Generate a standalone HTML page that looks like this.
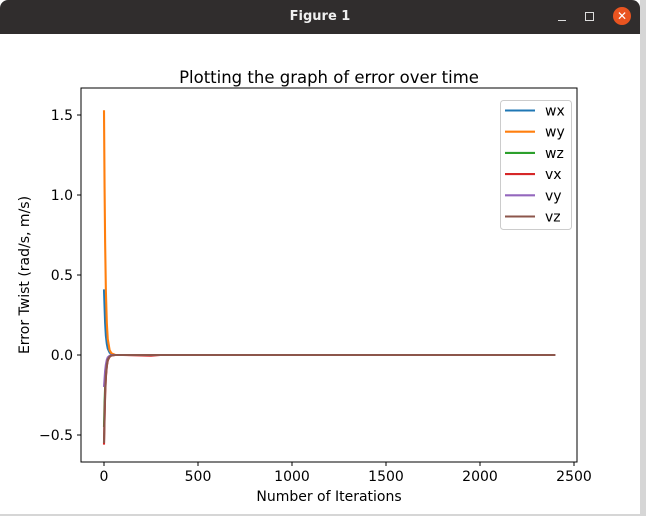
<!DOCTYPE html>
<html><head><meta charset="utf-8"><style>
body{margin:0;width:646px;height:516px;background:#d6d6d6;overflow:hidden;font-family:"DejaVu Sans","Liberation Sans",sans-serif}
#win{position:absolute;left:0;top:0;width:640px;height:514px;background:#fff}
#bar{position:absolute;left:0;top:0;width:640px;height:34px;background:#302d2d;border-radius:8px 8px 0 0}
</style></head><body>
<div id="win">
<div id="bar">
<div style="position:absolute;left:0;width:640px;top:9px;text-align:center;color:#f0f0f0;font-weight:bold;font-size:13px">Figure 1</div>
<div style="position:absolute;left:558px;top:20px;width:8px;height:1px;background:#ddd"></div>
<div style="position:absolute;left:585px;top:12px;width:7px;height:7px;border:1px solid #ddd"></div>
<div style="position:absolute;left:613px;top:7px;width:18px;height:18px;border-radius:9px;background:#e95420;color:#fff;font-size:12px;text-align:center;line-height:18px">✕</div>
</div>
<svg id="chart" width="640" height="480" style="position:absolute;left:0;top:34px" viewBox="0 34 640 480" font-family="DejaVu Sans, Liberation Sans, sans-serif"></svg>
</div>
<script>
const iters=[0,3,6,10,15,20,30,40,60,100,200,250,300,2400];
const wx=[0.41,0.30,0.20,0.12,0.07,0.04,0.015,0.005,0,0,0,0,0,0];
const wy=[1.53,1.05,0.70,0.40,0.20,0.10,0.03,0.01,0,0,0,0,0,0];
const wz=[-0.45,-0.30,-0.20,-0.12,-0.06,-0.03,-0.01,0,0,0,0,0,0,0];
const vx=[-0.56,-0.40,-0.25,-0.14,-0.07,-0.035,-0.01,-0.003,0,0,-0.003,-0.004,0,0];
const vy=[-0.20,-0.15,-0.10,-0.06,-0.03,-0.015,-0.005,0,0,0,0,0,0,0];
const vz=[-0.55,-0.38,-0.24,-0.13,-0.065,-0.03,-0.01,-0.003,0,0,0,0,0,0];
const seriesNames=["wx","wy","wz","vx","vy","vz"];
const seriesData=[wx,wy,wz,vx,vy,vz];
const colors=["#1f77b4","#ff7f0e","#2ca02c","#d62728","#9467bd","#8c564b"];
const xTicks=[0,500,1000,1500,2000,2500];
const yTicks=[-0.5,0.0,0.5,1.0,1.5];
const NS="http://www.w3.org/2000/svg";
const svg=document.getElementById('chart');
const L=81,R=577,T=88,B=462;
const X=v=>104+v*(470/2500);
const Y=v=>355-v*160;
function mk(tag,attrs,parent){const e=document.createElementNS(NS,tag);for(const k in attrs)e.setAttribute(k,attrs[k]);(parent||svg).appendChild(e);return e;}
const clip=mk('clipPath',{id:'c'});mk('rect',{x:L,y:T,width:R-L,height:B-T},clip);
const g=mk('g',{'clip-path':'url(#c)'});
seriesData.forEach((d,i)=>{
  const p=mk('polyline',{points:d.map((v,j)=>X(iters[j])+','+Y(v)).join(' '),fill:'none',stroke:colors[i],'stroke-width':2.1},g);
  
  
});
const frame=mk('rect',{x:L,y:T,width:R-L,height:B-T,fill:'none',stroke:'#000','stroke-width':1});


xTicks.forEach(v=>{
  mk('line',{x1:X(v),x2:X(v),y1:B,y2:B+4,stroke:'#000'});
  const t=mk('text',{x:X(v),y:B+19,'text-anchor':'middle','font-size':14});t.textContent=v;
  
  
});
yTicks.forEach(v=>{
  mk('line',{x1:L-4,x2:L,y1:Y(v),y2:Y(v),stroke:'#000'});
  const t=mk('text',{x:L-8,y:Y(v)+5,'text-anchor':'end','font-size':14});t.textContent=(v<0?'\u2212':'')+Math.abs(v).toFixed(1);
  
  
});
const tt=mk('text',{x:329,y:83,'text-anchor':'middle','font-size':16.5});tt.textContent='Plotting the graph of error over time';


const xl=mk('text',{x:329,y:501,'text-anchor':'middle','font-size':14});xl.textContent='Number of Iterations';


const yl=mk('text',{x:0,y:0,'text-anchor':'middle','font-size':14,transform:'translate(29,275) rotate(-90)'});yl.textContent='Error Twist (rad/s, m/s)';


const lg=mk('g',{});


mk('rect',{x:500.5,y:100.5,width:71,height:129,rx:3,fill:'#fff',stroke:'#ccc'},lg);
seriesNames.forEach((n,i)=>{
  const y=110.5+i*21.2;
  const e=mk('g',{},lg);
  
  
  mk('line',{x1:505,x2:535,y1:y,y2:y,stroke:colors[i],'stroke-width':2.1},e);
  const t=mk('text',{x:545,y:y+5,'font-size':14},e);t.textContent=n;
});
</script>
</body></html>
